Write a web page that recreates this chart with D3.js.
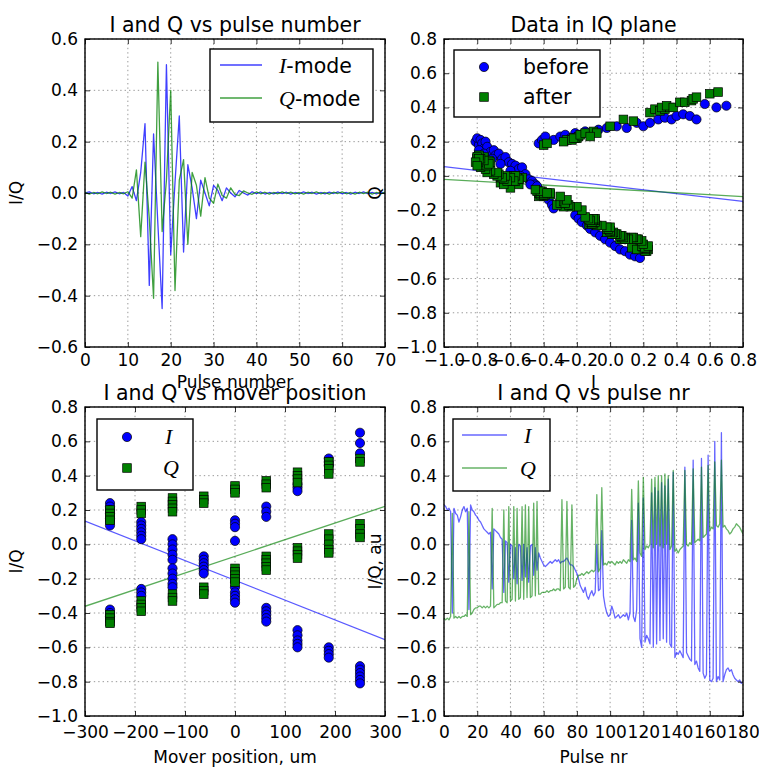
<!DOCTYPE html>
<html>
<head>
<meta charset="utf-8">
<script src="https://cdn.jsdelivr.net/npm/d3@7"></script>
<style>
  body { margin: 0; background: #fff; }
  text { font-family: "DejaVu Sans", sans-serif; }
</style>
</head>
<body>
<div id="chart"></div>
<script>
// ---- top-left: I and Q vs pulse number (index = pulse number)
var waveI = [0.000, 0.004, -0.003, 0.002, -0.004, 0.003, -0.002, 0.004, -0.003, 0.002,
  -0.012, 0.025, -0.030, 0.080, 0.270, -0.360, 0.230, -0.120, -0.450, 0.500,
  -0.240, 0.040, 0.300, -0.230, 0.110, 0.020, -0.100, 0.050, 0.000, -0.050,
  0.030, 0.010, -0.030, 0.020, 0.000, -0.015, 0.010, 0.000, -0.008, 0.005,
  -0.003, 0.004, -0.004, 0.002, -0.003, 0.003, -0.002, 0.003, -0.004, 0.002,
  -0.003, 0.004, -0.002, 0.003, -0.004, 0.002, -0.003, 0.003, -0.002, 0.004,
  -0.003, 0.002, -0.004, 0.003, -0.002, 0.004, -0.003, 0.002, -0.003, 0.003, -0.002];
var waveQ = [0.003, -0.004, 0.002, -0.003, 0.004, -0.002, 0.003, -0.004, 0.002, -0.003,
  0.005, -0.020, 0.090, -0.170, 0.120, -0.100, -0.410, 0.510, -0.150, 0.050,
  0.400, -0.380, 0.050, 0.130, -0.200, 0.080, 0.030, -0.090, 0.060, -0.020,
  -0.040, 0.035, -0.010, -0.020, 0.020, -0.005, -0.010, 0.008, 0.000, -0.005,
  0.004, -0.003, 0.003, -0.004, 0.002, -0.003, 0.004, -0.002, 0.003, -0.003,
  0.002, -0.004, 0.003, -0.002, 0.004, -0.003, 0.002, -0.004, 0.003, -0.002,
  0.004, -0.003, 0.002, -0.004, 0.003, -0.002, 0.003, -0.004, 0.002, -0.003, 0.003];

// ---- bottom-right: I and Q vs pulse nr (index = pulse nr); also the "after" points in the IQ plane
var nrI = [0.23, 0.22, 0.20, 0.21, 0.19, -0.40, 0.21, 0.18, 0.17, 0.13,
  0.16, 0.20, 0.22, 0.19, 0.21, -0.38, 0.23, 0.20, 0.19, 0.17,
  0.16, 0.14, 0.13, 0.11, 0.09, 0.08, 0.07, 0.06, 0.07, -0.26,
  0.09, 0.08, 0.07, 0.06, 0.04, 0.03, -0.28, 0.02, 0.01, -0.22,
  0.00, -0.01, -0.20, -0.02, -0.23, 0.00, -0.01, -0.21, 0.00, -0.19,
  -0.02, -0.22, -0.01, 0.00, -0.18, -0.02, -0.15, -0.05, -0.08, -0.10,
  -0.12, -0.13, -0.12, -0.11, -0.10, -0.11, -0.10, -0.09, -0.10, -0.09,
  -0.11, -0.10, -0.10, -0.09, -0.08, -0.10, -0.12, -0.12, -0.13, -0.15,
  -0.17, -0.20, -0.24, -0.26, -0.28, -0.25, -0.30, -0.32, -0.29, -0.27,
  -0.30, -0.28, 0.00, -0.27, -0.26, 0.08, -0.30, -0.36, -0.40, -0.42,
  -0.41, -0.36, -0.39, -0.43, -0.42, -0.41, -0.43, -0.42, -0.41, -0.42,
  -0.40, -0.44, -0.40, 0.14, -0.42, -0.45, -0.38, 0.24, -0.55, -0.60,
  0.27, -0.57, -0.53, -0.55, -0.58, 0.30, -0.60, 0.33, -0.58, 0.31,
  -0.56, 0.36, -0.55, 0.34, -0.57, 0.38, -0.58, -0.60, 0.42, -0.66,
  -0.63, -0.64, -0.62, -0.64, -0.66, 0.45, -0.63, -0.65, -0.67, -0.68,
  0.49, -0.70, -0.68, -0.72, -0.74, 0.50, -0.75, -0.78, -0.76, 0.52,
  -0.79, -0.80, -0.78, 0.60, -0.80, -0.77, -0.79, 0.65, -0.80, -0.76,
  -0.73, -0.72, -0.74, -0.73, -0.76, -0.78, -0.79, -0.80, -0.79, -0.81, -0.80];
var nrQ = [-0.43, -0.44, -0.43, -0.44, -0.42, 0.18, -0.43, -0.42, -0.43, -0.42,
  -0.43, -0.42, -0.42, -0.41, -0.42, 0.19, -0.41, -0.40, -0.38, -0.37,
  -0.37, -0.36, -0.36, -0.37, -0.36, -0.37, -0.36, -0.37, -0.36, 0.21,
  -0.37, -0.36, -0.35, -0.35, -0.34, -0.34, 0.20, -0.33, -0.34, 0.22,
  -0.33, -0.32, 0.22, -0.33, 0.21, -0.32, -0.31, 0.22, -0.32, 0.23,
  -0.31, 0.22, -0.31, -0.30, 0.24, -0.30, 0.25, -0.29, -0.29, -0.28,
  -0.28, -0.28, -0.27, -0.28, -0.27, -0.27, -0.26, -0.27, -0.26, -0.26,
  -0.27, 0.26, -0.26, -0.25, 0.25, -0.25, -0.26, 0.23, -0.25, -0.24,
  -0.20, -0.18, -0.18, -0.17, -0.18, -0.17, -0.16, -0.17, -0.16, -0.15,
  -0.16, -0.15, 0.29, -0.16, -0.14, 0.33, -0.12, -0.11, -0.12, -0.10,
  -0.11, -0.10, -0.11, -0.12, -0.10, -0.11, -0.10, -0.11, -0.09, -0.10,
  -0.11, -0.09, -0.10, 0.32, -0.09, -0.08, -0.10, 0.37, -0.05, -0.07,
  0.39, -0.03, -0.01, -0.02, 0.00, 0.38, -0.02, 0.39, 0.00, 0.40,
  -0.01, 0.40, -0.02, 0.41, 0.00, 0.40, -0.03, -0.01, 0.43, -0.04,
  -0.03, -0.05, -0.03, -0.02, -0.01, 0.43, 0.00, -0.01, 0.01, 0.00,
  0.44, 0.01, 0.02, 0.03, 0.02, 0.45, 0.04, 0.05, 0.06, 0.46,
  0.08, 0.10, 0.09, 0.48, 0.11, 0.10, 0.12, 0.49, 0.10, 0.11,
  0.09, 0.08, 0.06, 0.07, 0.09, 0.10, 0.12, 0.11, 0.10, 0.08, 0.06];

// ---- top-right: "before" points in the IQ plane
var beforeI = [-0.81, -0.80, -0.79, -0.78, -0.77, -0.76, -0.75, -0.74, -0.72, -0.70,
  -0.69, -0.67, -0.65, -0.63, -0.61, -0.59, -0.57, -0.55, -0.53, -0.51,
  -0.49, -0.47, -0.45, -0.43, -0.41, -0.39, -0.37, -0.35, -0.34,
  -0.21, -0.19, -0.17, -0.14, -0.12, -0.09, -0.06, -0.03, 0.00, 0.03,
  0.06, 0.09, 0.12, 0.15, 0.18,
  -0.43, -0.41, -0.39, -0.34, -0.30, -0.27, -0.24, -0.21, -0.18, -0.15,
  -0.11, -0.07, -0.02, 0.04, 0.10, 0.16, 0.20, 0.24, 0.29, 0.33,
  0.37, 0.40, 0.44, 0.48, 0.52, 0.57, 0.64, 0.70,
  -0.79, -0.76, -0.71, -0.66, -0.60, -0.54, -0.48, -0.44];
var beforeQ = [0.20, 0.22, 0.18, 0.21, 0.19, 0.16, 0.20, 0.17, 0.14, 0.15,
  0.12, 0.13, 0.10, 0.11, 0.08, 0.07, 0.06, 0.04, 0.05, 0.01,
  -0.02, -0.03, -0.05, -0.08, -0.10, -0.12, -0.14, -0.17, -0.19,
  -0.23, -0.25, -0.27, -0.29, -0.31, -0.33, -0.35, -0.37, -0.39, -0.41,
  -0.43, -0.44, -0.46, -0.47, -0.48,
  0.19, 0.21, 0.23, 0.21, 0.23, 0.24, 0.22, 0.25, 0.24, 0.26,
  0.25, 0.27, 0.28, 0.29, 0.28, 0.31, 0.29, 0.31, 0.33, 0.34,
  0.33, 0.35, 0.36, 0.35, 0.33, 0.42, 0.40, 0.41,
  0.15, 0.13, 0.10, 0.07, 0.03, 0.00, -0.05, -0.06];
// fitted lines [slope, intercept]
var fitBefore = [-0.113, -0.059];
var fitAfter = [-0.056, -0.076];

// ---- bottom-left: I and Q vs mover position
var moverPos = [-250, -187.5, -125, -62.5, 0, 62.5, 125, 187.5, 250];
var moverI = [
  [0.24, 0.22, 0.20, 0.18, 0.15, 0.13, 0.11, -0.38, -0.40, -0.42],
  [0.13, 0.11, 0.09, 0.07, 0.05, 0.03, -0.26, -0.28, -0.30],
  [0.03, 0.00, -0.03, -0.06, -0.09, -0.14, -0.17, -0.20, -0.23, -0.25],
  [-0.07, -0.09, -0.11, -0.13, -0.15, -0.17],
  [0.14, 0.12, 0.10, 0.02, -0.22, -0.25, -0.28, -0.30, -0.32, -0.34],
  [0.22, 0.19, 0.16, -0.37, -0.39, -0.41, -0.43, -0.45],
  [0.35, 0.33, 0.31, -0.50, -0.53, -0.56, -0.58, -0.60],
  [0.50, 0.48, 0.46, -0.60, -0.62, -0.64, -0.66],
  [0.65, 0.59, 0.53, -0.71, -0.73, -0.75, -0.77, -0.79, -0.81]];
var moverQ = [
  [0.20, 0.18, 0.16, 0.14, -0.41, -0.43, -0.45, -0.46],
  [0.22, 0.20, 0.18, -0.33, -0.35, -0.37, -0.39],
  [0.27, 0.25, 0.23, 0.21, 0.19, -0.29, -0.31, -0.33],
  [0.28, 0.26, 0.24, -0.25, -0.27, -0.29],
  [0.34, 0.32, 0.30, -0.14, -0.16, -0.18, -0.20, -0.22],
  [0.37, 0.35, 0.33, -0.07, -0.09, -0.11, -0.13, -0.15],
  [0.42, 0.40, 0.38, 0.36, -0.02, -0.04, -0.06, -0.08],
  [0.48, 0.46, 0.44, 0.41, 0.06, 0.03, 0.00, -0.03, -0.05],
  [0.50, 0.48, 0.12, 0.09, 0.06, 0.04]];
var fitMoverI = [-0.00115, -0.21];
var fitMoverQ = [0.00097, -0.07];

// ---- tick values
var ticksPulse = [0, 10, 20, 30, 40, 50, 60, 70];
var ticksWaveY = [-0.6, -0.4, -0.2, 0.0, 0.2, 0.4, 0.6];
var ticksIQ = [-1.0, -0.8, -0.6, -0.4, -0.2, 0.0, 0.2, 0.4, 0.6, 0.8];
var ticksMover = [-300, -200, -100, 0, 100, 200, 300];
var ticksNr = [0, 20, 40, 60, 80, 100, 120, 140, 160, 180];

var BLUE = "#0000ff", GREEN = "#008000";
var w = 759, h = 768;

var svg = d3.select("#chart")
  .append("svg")
  .attr("width", w)
  .attr("height", h);

svg.append("rect").attr("width", w).attr("height", h).attr("fill", "#fff");

function panel(o) {
  var x = d3.scaleLinear().domain(o.xd).range([o.left, o.left + o.w]);
  var y = d3.scaleLinear().domain(o.yd).range([o.top + o.h, o.top]);
  var g = svg.append("g");
  g.append("rect")
    .attr("x", o.left).attr("y", o.top)
    .attr("width", o.w).attr("height", o.h)
    .attr("fill", "#fff");
  g.append("clipPath").attr("id", "clip-" + o.id)
    .append("rect")
    .attr("x", o.left).attr("y", o.top)
    .attr("width", o.w).attr("height", o.h);

  // dotted grid
  var grid = g.append("g")
    .attr("stroke", "#000")
    .attr("stroke-opacity", 0.5)
    .attr("stroke-width", 0.8)
    .attr("stroke-dasharray", "1.4,3");
  o.xt.forEach(function(v) {
    grid.append("line").attr("x1", x(v)).attr("x2", x(v)).attr("y1", o.top).attr("y2", o.top + o.h);
  });
  o.yt.forEach(function(v) {
    grid.append("line").attr("x1", o.left).attr("x2", o.left + o.w).attr("y1", y(v)).attr("y2", y(v));
  });

  var plot = g.append("g").attr("clip-path", "url(#clip-" + o.id + ")");
  return { o: o, x: x, y: y, g: g, plot: plot };
}

function frame(p) {
  var o = p.o, x = p.x, y = p.y, g = p.g;
  var fmtX = o.xf, fmtY = d3.format(".1f");

  g.append("g")
    .attr("transform", "translate(0," + (o.top + o.h) + ")")
    .call(d3.axisBottom(x).tickValues(o.xt).tickFormat(fmtX).tickSizeInner(-5).tickSizeOuter(0).tickPadding(o.tpad))
    .call(function(a) { a.select(".domain").remove(); })
    .attr("font-size", 17).attr("font-family", "DejaVu Sans");
  g.append("g")
    .attr("transform", "translate(0," + o.top + ")")
    .call(d3.axisTop(x).tickValues(o.xt).tickFormat("").tickSizeInner(-5).tickSizeOuter(0))
    .call(function(a) { a.select(".domain").remove(); });
  g.append("g")
    .attr("transform", "translate(" + o.left + ",0)")
    .call(d3.axisLeft(y).tickValues(o.yt).tickFormat(fmtY).tickSizeInner(-5).tickSizeOuter(0).tickPadding(7))
    .call(function(a) { a.select(".domain").remove(); })
    .attr("font-size", 17).attr("font-family", "DejaVu Sans");
  g.append("g")
    .attr("transform", "translate(" + (o.left + o.w) + ",0)")
    .call(d3.axisRight(y).tickValues(o.yt).tickFormat("").tickSizeInner(-5).tickSizeOuter(0))
    .call(function(a) { a.select(".domain").remove(); });
  g.selectAll(".tick line").attr("stroke", "#000").attr("stroke-width", 0.8);
  g.selectAll(".tick text").attr("fill", "#000");

  g.append("rect")
    .attr("x", o.left).attr("y", o.top)
    .attr("width", o.w).attr("height", o.h)
    .attr("fill", "none")
    .attr("stroke", "#000")
    .attr("stroke-width", 1.4);

  // title and axis labels
  g.append("text")
    .attr("x", o.left + o.w / 2).attr("y", o.top - 7)
    .attr("text-anchor", "middle").attr("font-size", 20.5)
    .text(o.title);
  g.append("text")
    .attr("x", o.left + o.w / 2).attr("y", o.top + o.h + o.lpad)
    .attr("text-anchor", "middle").attr("font-size", 17)
    .text(o.xlabel);
  g.append("text")
    .attr("transform", "translate(" + (o.left - 63) + "," + (o.top + o.h / 2) + ") rotate(-90)")
    .attr("text-anchor", "middle").attr("font-size", 17)
    .text(o.ylabel);
}

function legendBox(g, x0, y0, bw, bh) {
  g.append("rect")
    .attr("x", x0).attr("y", y0).attr("width", bw).attr("height", bh)
    .attr("fill", "#fff").attr("stroke", "#000").attr("stroke-width", 1.4);
}

function mathLabel(g, x0, y0, sym, rest) {
  var t = g.append("text").attr("x", x0).attr("y", y0).attr("dy", "0.35em").attr("font-size", 20.5);
  t.append("tspan")
    .attr("font-family", "Liberation Serif").attr("font-style", "italic").attr("font-size", 22)
    .text(sym);
  if (rest) t.append("tspan").text(rest);
}

function drawLine(p, xs, ys, color, opacity) {
  var line = d3.line()
    .x(function(d, i) { return p.x(xs[i]); })
    .y(function(d) { return p.y(d); });
  p.plot.append("path")
    .datum(ys)
    .attr("fill", "none")
    .attr("stroke", color)
    .attr("stroke-opacity", opacity)
    .attr("stroke-width", 1.3)
    .attr("stroke-linejoin", "round")
    .attr("d", line);
}

function drawFit(p, fit, color) {
  var xd = p.x.domain();
  p.plot.append("line")
    .attr("x1", p.x(xd[0])).attr("y1", p.y(fit[0] * xd[0] + fit[1]))
    .attr("x2", p.x(xd[1])).attr("y2", p.y(fit[0] * xd[1] + fit[1]))
    .attr("stroke", color).attr("stroke-opacity", 0.65).attr("stroke-width", 1.3);
}

function circles(sel, pts, color) {
  sel.selectAll(null).data(pts).enter().append("circle")
    .attr("cx", function(d) { return d[0]; })
    .attr("cy", function(d) { return d[1]; })
    .attr("r", 4.6)
    .attr("fill", color).attr("stroke", "#000").attr("stroke-width", 0.7);
}
function squares(sel, pts, color) {
  sel.selectAll(null).data(pts).enter().append("rect")
    .attr("x", function(d) { return d[0] - 4.3; })
    .attr("y", function(d) { return d[1] - 4.3; })
    .attr("width", 8.6).attr("height", 8.6)
    .attr("fill", color).attr("stroke", "#000").attr("stroke-width", 0.7);
}

var idx71 = waveI.map(function(d, i) { return i; });
var idx181 = nrI.map(function(d, i) { return i; });

// ---------- panel 1: top-left
var p1 = panel({ id: 1, left: 85, top: 39, w: 300, h: 308, tpad: 7, lpad: 41,
  xd: [0, 70], yd: [-0.6, 0.6], xt: ticksPulse, yt: ticksWaveY, xf: d3.format("d"),
  title: "I and Q vs pulse number", xlabel: "Pulse number", ylabel: "I/Q" });
drawLine(p1, idx71, waveI, BLUE, 0.75);
drawLine(p1, idx71, waveQ, GREEN, 0.75);
frame(p1);
legendBox(p1.g, 210, 49, 163, 73);
p1.g.append("line").attr("x1", 220).attr("x2", 262).attr("y1", 65).attr("y2", 65)
  .attr("stroke", BLUE).attr("stroke-opacity", 0.75).attr("stroke-width", 1.3);
p1.g.append("line").attr("x1", 220).attr("x2", 262).attr("y1", 98).attr("y2", 98)
  .attr("stroke", GREEN).attr("stroke-opacity", 0.75).attr("stroke-width", 1.3);
mathLabel(p1.g, 279, 66, "I", "-mode");
mathLabel(p1.g, 279, 99, "Q", "-mode");

// ---------- panel 2: top-right
var p2 = panel({ id: 2, left: 444, top: 39, w: 299, h: 308, tpad: 7, lpad: 41,
  xd: [-1.0, 0.8], yd: [-1.0, 0.8], xt: ticksIQ, yt: ticksIQ, xf: d3.format(".1f"),
  title: "Data in IQ plane", xlabel: "I", ylabel: "Q" });
drawFit(p2, fitBefore, BLUE);
drawFit(p2, fitAfter, GREEN);
circles(p2.plot, beforeI.map(function(v, i) { return [p2.x(v), p2.y(beforeQ[i])]; }), BLUE);
squares(p2.plot, nrI.map(function(v, i) { return [p2.x(v), p2.y(nrQ[i])]; }), GREEN);
frame(p2);
legendBox(p2.g, 454, 50, 146, 67);
circles(p2.g, [[484, 67]], BLUE);
squares(p2.g, [[484, 97]], GREEN);
p2.g.append("text").attr("x", 523).attr("y", 67).attr("dy", "0.35em").attr("font-size", 20.5).text("before");
p2.g.append("text").attr("x", 523).attr("y", 97).attr("dy", "0.35em").attr("font-size", 20.5).text("after");

// ---------- panel 3: bottom-left
var p3 = panel({ id: 3, left: 85, top: 407, w: 300, h: 309, tpad: 10, lpad: 47,
  xd: [-300, 300], yd: [-1.0, 0.8], xt: ticksMover, yt: ticksIQ, xf: d3.format("d"),
  title: "I and Q vs mover position", xlabel: "Mover position, um", ylabel: "I/Q" });
drawFit(p3, fitMoverI, BLUE);
drawFit(p3, fitMoverQ, GREEN);
var ptsI = [], ptsQ = [];
moverPos.forEach(function(pos, k) {
  moverI[k].forEach(function(v) { ptsI.push([p3.x(pos), p3.y(v)]); });
  moverQ[k].forEach(function(v) { ptsQ.push([p3.x(pos), p3.y(v)]); });
});
circles(p3.plot, ptsI, BLUE);
squares(p3.plot, ptsQ, GREEN);
frame(p3);
legendBox(p3.g, 97, 419, 96, 71);
circles(p3.g, [[127, 437]], BLUE);
squares(p3.g, [[127, 468]], GREEN);
mathLabel(p3.g, 165, 437, "I", null);
mathLabel(p3.g, 163, 468, "Q", null);

// ---------- panel 4: bottom-right
var p4 = panel({ id: 4, left: 444, top: 407, w: 299, h: 309, tpad: 10, lpad: 47,
  xd: [0, 180], yd: [-1.0, 0.8], xt: ticksNr, yt: ticksIQ, xf: d3.format("d"),
  title: "I and Q vs pulse nr", xlabel: "Pulse nr", ylabel: "I/Q, au" });
drawLine(p4, idx181, nrI, BLUE, 0.6);
drawLine(p4, idx181, nrQ, GREEN, 0.6);
frame(p4);
legendBox(p4.g, 453, 419, 97, 72);
p4.g.append("line").attr("x1", 462).attr("x2", 507).attr("y1", 435).attr("y2", 435)
  .attr("stroke", BLUE).attr("stroke-opacity", 0.6).attr("stroke-width", 1.3);
p4.g.append("line").attr("x1", 462).attr("x2", 507).attr("y1", 468).attr("y2", 468)
  .attr("stroke", GREEN).attr("stroke-opacity", 0.6).attr("stroke-width", 1.3);
mathLabel(p4.g, 524, 436, "I", null);
mathLabel(p4.g, 520, 469, "Q", null);
</script>
</body>
</html>
